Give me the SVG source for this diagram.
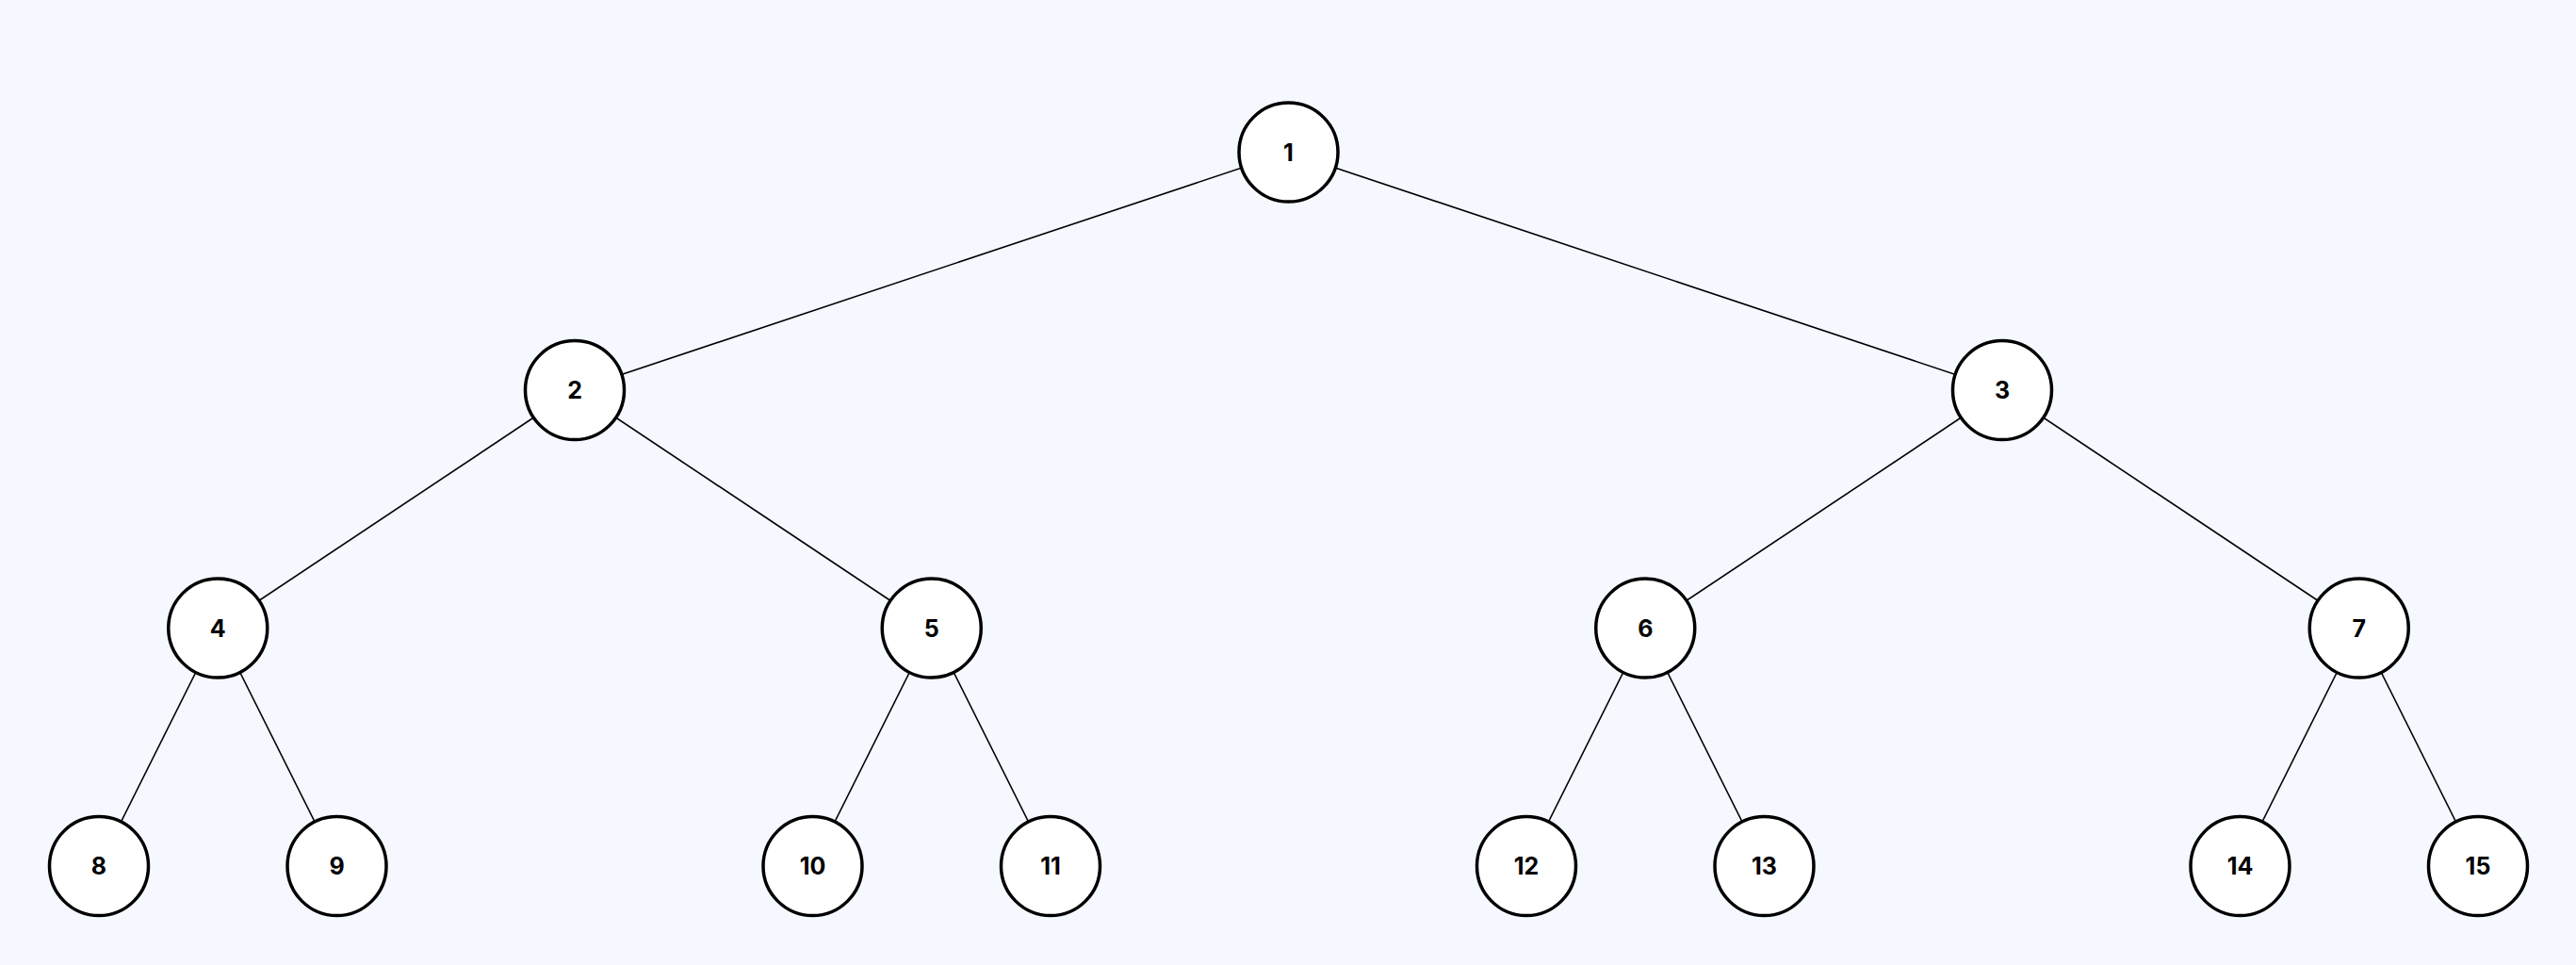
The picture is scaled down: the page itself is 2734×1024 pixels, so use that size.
<svg xmlns="http://www.w3.org/2000/svg" width="2734" height="1024" viewBox="0 0 2734 1024">
<style>
.n circle{fill:#ffffff;stroke:#000000;stroke-width:3.5}
.n text{font-family:Inter,"Liberation Sans",sans-serif;font-weight:700;font-size:25px;fill:#000000;text-anchor:middle;dominant-baseline:central}
#edges line{stroke:#000000;stroke-width:1.6}
</style>
<rect width="2734" height="1024" fill="#f5f8ff"/>
<g id="edges">
<line x1="1367.5" y1="161.5" x2="610" y2="414"/>
<line x1="1367.5" y1="161.5" x2="2125" y2="414"/>
<line x1="610" y1="414" x2="231.25" y2="666.5"/>
<line x1="610" y1="414" x2="988.75" y2="666.5"/>
<line x1="2125" y1="414" x2="1746.25" y2="666.5"/>
<line x1="2125" y1="414" x2="2503.75" y2="666.5"/>
<line x1="231.25" y1="666.5" x2="105" y2="919"/>
<line x1="231.25" y1="666.5" x2="357.5" y2="919"/>
<line x1="988.75" y1="666.5" x2="862.5" y2="919"/>
<line x1="988.75" y1="666.5" x2="1115" y2="919"/>
<line x1="1746.25" y1="666.5" x2="1620" y2="919"/>
<line x1="1746.25" y1="666.5" x2="1872.5" y2="919"/>
<line x1="2503.75" y1="666.5" x2="2377.5" y2="919"/>
<line x1="2503.75" y1="666.5" x2="2630" y2="919"/>
</g>
<g id="node1" class="n"><circle cx="1367.5" cy="161.5" r="52.5"/><text x="1367.5" y="161.5">1</text></g>
<g id="node2" class="n"><circle cx="610" cy="414" r="52.5"/><text x="610" y="414">2</text></g>
<g id="node3" class="n"><circle cx="2125" cy="414" r="52.5"/><text x="2125" y="414">3</text></g>
<g id="node4" class="n"><circle cx="231.25" cy="666.5" r="52.5"/><text x="231.25" y="666.5">4</text></g>
<g id="node5" class="n"><circle cx="988.75" cy="666.5" r="52.5"/><text x="988.75" y="666.5">5</text></g>
<g id="node6" class="n"><circle cx="1746.25" cy="666.5" r="52.5"/><text x="1746.25" y="666.5">6</text></g>
<g id="node7" class="n"><circle cx="2503.75" cy="666.5" r="52.5"/><text x="2503.75" y="666.5">7</text></g>
<g id="node8" class="n"><circle cx="105" cy="919" r="52.5"/><text x="105" y="919">8</text></g>
<g id="node9" class="n"><circle cx="357.5" cy="919" r="52.5"/><text x="357.5" y="919">9</text></g>
<g id="node10" class="n"><circle cx="862.5" cy="919" r="52.5"/><text x="862.5" y="919">10</text></g>
<g id="node11" class="n"><circle cx="1115" cy="919" r="52.5"/><text x="1115" y="919">11</text></g>
<g id="node12" class="n"><circle cx="1620" cy="919" r="52.5"/><text x="1620" y="919">12</text></g>
<g id="node13" class="n"><circle cx="1872.5" cy="919" r="52.5"/><text x="1872.5" y="919">13</text></g>
<g id="node14" class="n"><circle cx="2377.5" cy="919" r="52.5"/><text x="2377.5" y="919">14</text></g>
<g id="node15" class="n"><circle cx="2630" cy="919" r="52.5"/><text x="2630" y="919">15</text></g>
</svg>
